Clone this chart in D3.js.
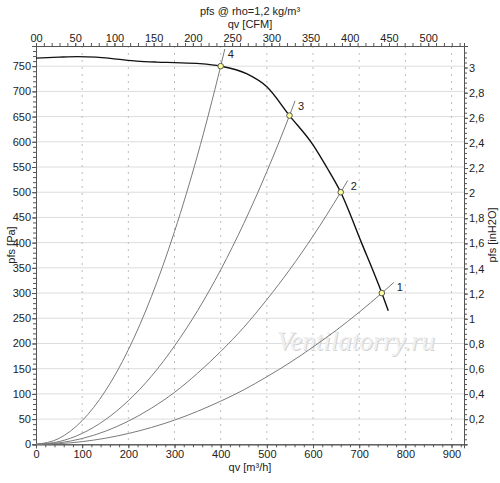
<!DOCTYPE html>
<html><head><meta charset="utf-8">
<script src="https://cdn.jsdelivr.net/npm/d3@7"></script>
<style>body{margin:0;background:#fff}svg{display:block;font-family:"Liberation Sans",Arial,sans-serif}</style>
</head><body><svg id="c" width="500" height="483"></svg>
<script>
// Data (qv in m³/h, pfs in Pa)
const fanCurve = [[0,766],[50,768],[90,769],[130,768],[175,764],[218,760],[262,758],[300,757],[355,755],[400,750],[456,735],[500,709],[549,652],[600,594],[630,549],[660,500],[704,402],[749,300],[763,265]];
const system1 = [[0,0],[50,1.3],[100,5.3],[150,12],[200,21.4],[250,33.4],[300,48],[350,65.5],[400,85.6],[450,108],[500,134],[550,162],[600,193],[650,226],[700,262],[749,300],[775,321]];
const system2 = [[0,0],[50,2.9],[100,11.5],[150,25.8],[200,45.9],[250,71.7],[300,103],[350,141],[400,184],[450,232],[500,287],[550,347],[600,413],[660,500],[675,523]];
const system3 = [[0,0],[50,5.4],[100,21.6],[150,48.7],[200,86.5],[250,135],[300,195],[350,265],[400,346],[450,438],[500,541],[549,652],[561,681]];
const system4 = [[0,0],[50,11.7],[100,46.9],[150,105.5],[200,187.5],[250,293],[300,422],[350,574],[400,750],[409,784]];
const systemNames = ["1","2","3","4"];
const opPoints = [[749,300],[660,500],[549,652],[400,750]];
const qvTicks = [0,100,200,300,400,500,600,700,800,900];
const cfmTicks = [0,50,100,150,200,250,300,350,400,450,500];
const cfmLabels = ["00","50","100","150","200","250","300","350","400","450","500"];
const paTicks = [0,50,100,150,200,250,300,350,400,450,500,550,600,650,700,750];
const inTicks = [0.2,0.4,0.6,0.8,1,1.2,1.4,1.6,1.8,2,2.2,2.4,2.6,2.8,3];

const M3H_PER_CFM = 1.699, PA_PER_INH2O = 249.09;
const svg = d3.select("#c");
const L=36, R=464, T=46, B=444.3;
const x = d3.scaleLinear().domain([0,927]).range([L,R]);
const y = d3.scaleLinear().domain([0,790]).range([B,T]);
const xc = d3.scaleLinear().domain([0,927/M3H_PER_CFM]).range([L,R]);
const yi = d3.scaleLinear().domain([0,790/PA_PER_INH2O]).range([B,T]);

// grid
const g = svg.append("g");
g.selectAll(".hg").data(paTicks.filter(d=>d>0)).join("line")
 .attr("x1",L).attr("x2",R).attr("y1",d=>y(d)).attr("y2",d=>y(d))
 .attr("stroke","#dcdcdc").attr("stroke-width",1);
g.selectAll(".vg").data(qvTicks.filter(d=>d>0)).join("line")
 .attr("y1",T).attr("y2",B).attr("x1",d=>x(d)).attr("x2",d=>x(d))
 .attr("stroke","#bdbdbd").attr("stroke-width",1).attr("stroke-dasharray","2,5");

// watermark
const wm = svg.append("g").attr("font-family","'Liberation Serif',serif").attr("font-style","italic").attr("font-size",27).attr("text-anchor","middle");
wm.append("text").attr("x",357).attr("y",351).attr("fill","#d2d2d2").text("Ventilatorry.ru");
wm.append("text").attr("x",356).attr("y",350).attr("fill","#f0f0f0").text("Ventilatorry.ru");

// axes
function styleAxis(sel){
  sel.select(".domain").attr("stroke","#555");
  sel.selectAll(".tick line").attr("stroke","#555");
  sel.selectAll("text").attr("font-size",11).attr("fill","#222").attr("font-family","'Liberation Sans',Arial,sans-serif");
}
svg.append("g").attr("transform",`translate(0,${B})`).call(d3.axisBottom(x).tickValues(d3.range(0,921,20)).tickSize(3).tickFormat("")).call(styleAxis);
svg.append("g").attr("transform",`translate(0,${B})`).call(d3.axisBottom(x).tickValues(qvTicks).tickSize(4).tickPadding(2)).call(styleAxis);
svg.append("g").attr("transform",`translate(0,${T})`).call(d3.axisTop(xc).tickValues(d3.range(0,541,10)).tickSize(3).tickFormat("")).call(styleAxis);
svg.append("g").attr("transform",`translate(0,${T})`).call(d3.axisTop(xc).tickValues(cfmTicks).tickSize(3).tickPadding(1).tickFormat((d,i)=>cfmLabels[i])).call(styleAxis);
svg.append("g").attr("transform",`translate(${L},0)`).call(d3.axisLeft(y).tickValues(d3.range(0,781,10)).tickSize(3).tickFormat("")).call(styleAxis);
svg.append("g").attr("transform",`translate(${L},0)`).call(d3.axisLeft(y).tickValues(paTicks).tickSize(4).tickPadding(1)).call(styleAxis);
svg.append("g").attr("transform",`translate(${R},0)`).call(d3.axisRight(yi).tickValues(d3.range(0,3.15,0.04)).tickSize(3).tickFormat("")).call(styleAxis);
svg.append("g").attr("transform",`translate(${R},0)`).call(d3.axisRight(yi).tickValues(inTicks).tickSize(4).tickPadding(1).tickFormat(d=>String(+d.toFixed(1)).replace(".",","))).call(styleAxis);

// titles
const tt = svg.append("g").attr("font-size",11).attr("fill","#222").attr("text-anchor","middle");
tt.append("text").attr("x",250).attr("y",15).text("pfs @ rho=1,2 kg/m³");
tt.append("text").attr("x",250).attr("y",28).text("qv [CFM]");
tt.append("text").attr("x",250).attr("y",471).text("qv [m³/h]");
tt.append("text").attr("transform","translate(15,245) rotate(-90)").text("pfs [Pa]");
tt.append("text").attr("transform","translate(496,235) rotate(-90)").text("pfs [inH2O]");

// curves
const line = d3.line().x(d=>x(d[0])).y(d=>y(d[1])).curve(d3.curveMonotoneX);
const systems = [system1,system2,system3,system4];
svg.append("g").selectAll("path").data(systems).join("path")
 .attr("d",line).attr("fill","none").attr("stroke","#7a7a7a").attr("stroke-width",1);
svg.append("g").selectAll("text").data(systems).join("text")
 .attr("x",d=>x(d[d.length-1][0])+3).attr("y",d=>y(d[d.length-1][1])+9)
 .attr("font-size",11).attr("fill","#222").text((d,i)=>systemNames[i]);
svg.append("path").datum(fanCurve).attr("d",line).attr("fill","none").attr("stroke","#111").attr("stroke-width",1.4);
svg.append("g").selectAll("circle").data(opPoints).join("circle")
 .attr("cx",d=>x(d[0])).attr("cy",d=>y(d[1])).attr("r",2.8)
 .attr("fill","#ffff9a").attr("stroke","#555").attr("stroke-width",1);
</script></body></html>
